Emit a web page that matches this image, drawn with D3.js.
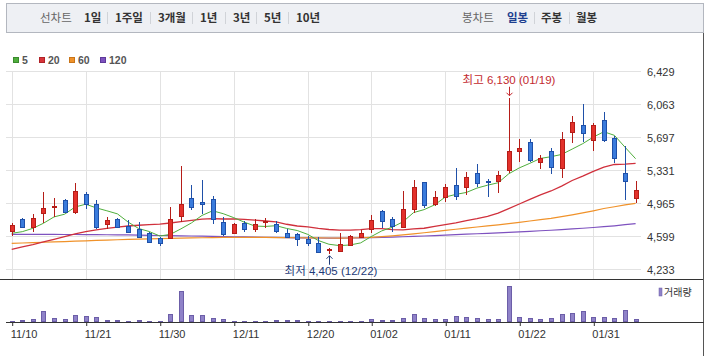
<!DOCTYPE html>
<html><head><meta charset="utf-8">
<script src="https://cdn.jsdelivr.net/npm/d3@7"></script>
<style>
html,body{margin:0;padding:0;background:#fff;}
svg{display:block;font-family:"Liberation Sans","Noto Sans CJK KR",Arial,sans-serif;}
</style></head><body>
<svg id="chart" width="709" height="356"></svg>
<script>
const dates = ["11/10","11/13","11/14","11/15","11/16","11/17","11/20","11/21","11/22","11/23","11/24","11/27","11/28","11/29","11/30","12/01","12/04","12/05","12/06","12/07","12/08","12/11","12/12","12/13","12/14","12/15","12/18","12/19","12/20","12/21","12/22","12/26","12/27","12/28","01/02","01/03","01/04","01/05","01/08","01/09","01/10","01/11","01/12","01/15","01/16","01/17","01/18","01/19","01/22","01/23","01/24","01/25","01/26","01/29","01/30","01/31","02/01","02/02","02/05","02/06"];
const openP  = [4660,4786,4697,4859,4926,4999,4863,5066,4951,4738,4789,4712,4675,4638,4575,4575,4826,5018,4981,5007,4760,4631,4749,4678,4752,4730,4638,4620,4564,4520,4443,4439,4502,4586,4679,4878,4789,4697,4900,5195,4955,5029,5165,5139,5294,5205,5213,5331,5545,5637,5423,5541,5349,5747,5829,5663,5884,5681,5294,5018];
const highP  = [4741,4797,4844,5084,5018,5007,5184,5084,4999,4815,4797,4778,4752,4649,4594,4926,5379,5165,5220,5043,4815,4749,4767,4785,4796,4771,4678,4638,4601,4586,4472,4630,4612,4668,4833,4889,4807,5099,5220,5200,5099,5172,5349,5305,5394,5228,5320,6130,5674,5670,5497,5570,5747,5928,6061,5847,5976,5707,5600,5209];
const lowP   = [4601,4686,4649,4741,4815,4859,4844,4896,4679,4679,4686,4642,4590,4527,4494,4570,4760,4889,4844,4734,4601,4620,4649,4649,4686,4638,4575,4494,4494,4415,4405,4435,4498,4583,4631,4686,4649,4686,4852,4907,4937,4981,4999,5055,5139,5036,5073,5301,5423,5423,5338,5283,5246,5626,5637,5541,5644,5405,4999,4962];
const closeP = [4723,4697,4797,4907,4937,4870,5099,4951,4704,4778,4697,4649,4594,4538,4527,4786,4955,4925,4951,4785,4623,4734,4678,4734,4767,4660,4586,4564,4520,4425,4457,4509,4601,4631,4778,4771,4712,4900,5139,4944,5036,5139,5047,5250,5183,5194,5276,5541,5574,5441,5464,5368,5670,5865,5744,5829,5663,5467,5213,5110];
const volume = [30,50,80,320,110,80,200,170,140,50,50,20,50,20,20,230,920,200,200,110,80,20,20,20,20,50,50,50,20,20,20,20,20,20,80,50,50,110,230,110,80,80,170,140,110,80,80,1070,140,110,80,110,230,260,320,140,140,110,350,80];
const ma5   = [4631,4649,4686,4742,4812,4842,4922,4953,4912,4880,4846,4756,4684,4651,4601,4619,4680,4746,4829,4880,4848,4804,4754,4711,4707,4715,4685,4662,4619,4551,4510,4495,4502,4525,4595,4658,4699,4758,4860,4893,4946,5032,5061,5083,5131,5163,5190,5289,5354,5405,5459,5478,5503,5562,5622,5695,5754,5714,5583,5456];
const ma20  = [4454,4480,4505,4535,4565,4595,4625,4649,4668,4685,4700,4712,4720,4727,4733,4745,4760,4775,4788,4794,4789,4790,4784,4776,4767,4757,4731,4712,4703,4685,4673,4666,4666,4671,4683,4683,4671,4669,4679,4687,4707,4728,4746,4772,4793,4819,4854,4903,4955,5006,5057,5099,5153,5215,5263,5316,5363,5392,5395,5404];
const ma60  = [4520,4524,4528,4532,4536,4540,4544,4548,4552,4556,4560,4563,4566,4569,4572,4575,4578,4580,4582,4584,4585,4586,4586,4586,4585,4584,4583,4582,4581,4580,4579,4578,4579,4582,4587,4594,4603,4613,4625,4637,4650,4663,4676,4689,4701,4713,4725,4738,4752,4767,4782,4797,4815,4835,4857,4880,4905,4925,4945,4962];
const ma120 = [4620,4620,4620,4619,4619,4618,4618,4617,4616,4615,4614,4613,4611,4609,4607,4605,4603,4601,4599,4597,4595,4593,4591,4589,4587,4585,4583,4581,4580,4579,4578,4578,4579,4581,4583,4586,4589,4593,4597,4601,4606,4611,4616,4621,4626,4631,4636,4641,4647,4653,4659,4665,4672,4679,4687,4695,4704,4714,4726,4738];
const priceTicks = [4233,4599,4965,5331,5697,6063,6429];
const dateTicks = ["11/10","11/21","11/30","12/11","12/20","01/02","01/11","01/22","01/31"];
const periodTabs = ["1일","1주일","3개월","1년","3년","5년","10년"];
const candleTabs = ["일봉","주봉","월봉"];
const maNames = ["5","20","60","120"];
const maColors = ["#4fae3c","#d8343a","#f0922a","#7e52bf"];
const maBorders = ["#3a8a2c","#b02228","#c87418","#5e3a9a"];
const highIdx = 47, lowIdx = 30;

const svg = d3.select("#chart");

// --- top nav bar
svg.append("rect").attr("x",6.5).attr("y",3.5).attr("width",697).attr("height",29)
  .attr("fill","#eef0f4").attr("stroke","#b3b7bf");
const nav = svg.append("g").attr("font-size",11.5).attr("font-family","'Noto Sans CJK KR',sans-serif");
nav.append("text").attr("x",40).attr("y",22).attr("fill","#666").text("선차트");
const tabX = [84,115,158,200,233,264,296];
periodTabs.forEach((t,i)=>{
  nav.append("text").attr("x",tabX[i]).attr("y",22).attr("fill","#333").attr("font-weight","bold").text(t);
  if(i>0) nav.append("line").attr("x1",tabX[i]-7.5).attr("x2",tabX[i]-7.5).attr("y1",12).attr("y2",24).attr("stroke","#d0d3d8");
});
nav.append("text").attr("x",462).attr("y",22).attr("fill","#666").text("봉차트");
const ctX = [507,541,576];
candleTabs.forEach((t,i)=>{
  nav.append("text").attr("x",ctX[i]).attr("y",22).attr("fill",i===0?"#1d3f8f":"#333").attr("font-weight","bold").text(t);
  if(i>0) nav.append("line").attr("x1",ctX[i]-6.5).attr("x2",ctX[i]-6.5).attr("y1",12).attr("y2",24).attr("stroke","#d0d3d8");
});

// --- scales
const x = d3.scalePoint().domain(dates).range([11.7, 635.6]);
const y = d3.scaleLinear().domain([4233, 6429]).range([269.3, 70.7]);
const yv = d3.scaleLinear().domain([0, 1200]).range([322, 282]);
const px = d => Math.round(x(d));

// --- legend
const leg = svg.append("g").attr("font-size",10.5).attr("font-weight","bold").attr("fill","#555");
const legX = [13,39,69,100];
maNames.forEach((n,i)=>{
  leg.append("rect").attr("x",legX[i]+0.5).attr("y",57.5).attr("width",5).attr("height",5)
    .attr("fill",maColors[i]).attr("stroke",maBorders[i]);
  leg.append("text").attr("x",legX[i]+9).attr("y",64).text(n);
});

// --- grid
const grid = svg.append("g").attr("stroke","#e2e2e2").attr("stroke-width",1);
priceTicks.forEach(t=>{
  const yy = Math.round(y(t))+0.5;
  grid.append("line").attr("x1",6).attr("x2",641).attr("y1",yy).attr("y2",yy);
});
dateTicks.forEach(d=>{
  const xx = px(d)+0.5;
  grid.append("line").attr("x1",xx).attr("x2",xx).attr("y1",Math.round(y(6429))).attr("y2",279);
});

// --- y axis labels
const yAxis = d3.axisRight(y).tickValues(priceTicks).tickFormat(d3.format(",")).tickSize(0).tickPadding(0);
const ga = svg.append("g").attr("transform","translate(647,1)").call(yAxis);
ga.select(".domain").remove();
ga.selectAll("text").attr("font-size",11).attr("fill","#333").attr("font-family","'Liberation Sans',Arial,sans-serif");

// --- MA lines
const mk = arr => d3.line().x((d,i)=>x(dates[i])).y(d=>y(d))(arr);
[[ma120,"#7e52bf",1.2],[ma60,"#f0922a",1.2],[ma20,"#d0303c",1.3],[ma5,"#4fae3c",1]].forEach(([arr,c,w])=>{
  svg.append("path").attr("d",mk(arr)).attr("fill","none").attr("stroke",c).attr("stroke-width",w);
});

// --- candles
const cg = svg.append("g");
dates.forEach((d,i)=>{
  const up = closeP[i] >= openP[i];
  const fill = up ? "#e3312b" : "#3a7bdc";
  const stroke = up ? "#b51d18" : "#1f50a8";
  const cx = px(d);
  cg.append("line").attr("x1",cx+0.5).attr("x2",cx+0.5)
    .attr("y1",Math.round(y(highP[i]))).attr("y2",Math.round(y(lowP[i])))
    .attr("stroke",stroke);
  const top = Math.round(y(Math.max(openP[i],closeP[i])));
  const bot = Math.round(y(Math.min(openP[i],closeP[i])));
  cg.append("rect").attr("x",cx-1.5).attr("y",top+0.5).attr("width",4).attr("height",Math.max(1,bot-top))
    .attr("fill",fill).attr("stroke",stroke);
});

// --- high / low annotations
const hx = px(dates[highIdx]), hy = y(highP[highIdx]);
svg.append("text").attr("x",hx).attr("y",hy-14).attr("text-anchor","middle").attr("font-size",11.5)
  .attr("fill","#c3282e").text(`최고 ${d3.format(",")(highP[highIdx])} (${dates[highIdx]})`);
svg.append("path").attr("d",`M${hx+0.5},${hy-11}V${hy-2}M${hx-2.5},${hy-5}L${hx+0.5},${hy-2}L${hx+3.5},${hy-5}`)
  .attr("fill","none").attr("stroke","#c3282e");
const lx = px(dates[lowIdx]), ly = y(lowP[lowIdx]);
svg.append("text").attr("x",lx+2).attr("y",ly+21).attr("text-anchor","middle").attr("font-size",11.5)
  .attr("fill","#1d3a78").text(`최저 ${d3.format(",")(lowP[lowIdx])} (${dates[lowIdx].slice(0,2)}/${dates[lowIdx].slice(3)})`);
svg.append("path").attr("d",`M${lx+0.5},${ly+2}V${ly+11}M${lx-2.5},${ly+5}L${lx+0.5},${ly+2}L${lx+3.5},${ly+5}`)
  .attr("fill","none").attr("stroke","#1d3a78");

// --- frame lines
svg.append("line").attr("x1",0).attr("x2",704).attr("y1",279.5).attr("y2",279.5).attr("stroke","#333");
svg.append("line").attr("x1",703.5).attr("x2",703.5).attr("y1",33).attr("y2",356).attr("stroke","#555");

// --- volume
const vg = svg.append("g");
dates.forEach((d,i)=>{
  const cx = px(d);
  const t = Math.round(yv(volume[i]));
  vg.append("rect").attr("x",cx-1.5).attr("y",t+0.5).attr("width",4).attr("height",Math.max(1,322-t-1))
    .attr("fill","#8f82c8").attr("stroke","#6c5ea8");
});
svg.append("line").attr("x1",6).attr("x2",704).attr("y1",322.5).attr("y2",322.5).attr("stroke","#333");
svg.append("rect").attr("x",659).attr("y",288).attr("width",3).attr("height",8).attr("fill","#8f82c8").attr("stroke","#6c5ea8").attr("stroke-width",0.5);
svg.append("text").attr("x",664).attr("y",296).attr("font-size",10).attr("fill","#333")
  .attr("font-family","'Noto Sans CJK KR',sans-serif").text("거래량");

// --- x axis
const xAxis = d3.axisBottom(x).tickValues(dateTicks).tickSize(4).tickPadding(4);
const gx = svg.append("g").attr("transform","translate(0.5,322)").call(xAxis);
gx.select(".domain").remove();
gx.selectAll(".tick line").attr("stroke","#333");
gx.selectAll("text").attr("text-anchor","start").attr("dx",-2).attr("font-size",11).attr("fill","#333")
  .attr("font-family","'Liberation Sans',Arial,sans-serif");
</script>
</body></html>
